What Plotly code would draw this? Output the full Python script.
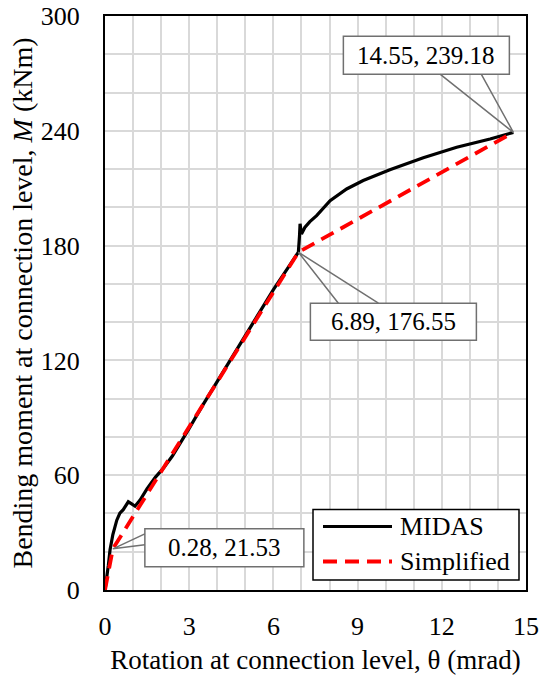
import plotly.graph_objects as go

# ---------------- data ----------------
midas_x = [0, 0.05, 0.12, 0.18, 0.28, 0.42, 0.53, 0.65, 0.83, 0.95, 1.07, 1.25, 1.5, 1.8,
           2.1, 2.4, 2.7, 3.0, 3.5, 4.0, 4.5, 5.0, 5.5, 6.0, 6.5, 6.89, 6.93, 6.95, 7.0,
           7.12, 7.3, 7.54, 8.02, 8.61, 9.2, 10.15, 11.34, 12.53, 13.72, 14.55]
midas_y = [0, 5, 13, 21, 29, 36.5, 40.2, 42, 46.1, 45, 43.8, 47, 53, 59,
           64, 70, 77, 84.5, 97, 109, 121, 133, 145, 157, 168, 176.55, 185, 191.4, 186,
           189.5, 192.5, 195.7, 203.5, 209.6, 214, 219.6, 225.9, 231.4, 235.7, 239.18]

simp_x = [0, 0.28, 6.89, 14.55]
simp_y = [0, 21.53, 176.55, 239.18]

series_names = ["MIDAS", "Simplified"]
x_ticks = [0, 3, 6, 9, 12, 15]
y_ticks = [0, 60, 120, 180, 240, 300]

FONT = "Liberation Serif"
W, H = 545, 675
ML, MR, MT, MB = 105, 19, 16, 85
PW, PH = W - ML - MR, H - MT - MB


def px(xp):
    return (xp - ML) / PW


def py(yp):
    return (H - MB - yp) / PH


fig = go.Figure()
fig.add_trace(go.Scatter(x=midas_x, y=midas_y, mode="lines", name=series_names[0],
                         line=dict(color="black", width=3.2), showlegend=False))
fig.add_trace(go.Scatter(x=simp_x, y=simp_y, mode="lines", name=series_names[1],
                         line=dict(color="#ff0000", width=3.8, dash="14px,8px"),
                         showlegend=False))

shapes = []
annotations = []
GRAY = "#707070"
callouts = [
    (1, (32, 191, -18, 20), [(32, 15), (32, 4)]),
    (2, (12, 178, -88, -51), [(40, -51), (80, -51)]),
    (3, (-170, -4, 58, 96), [(-73, 58), (-32, 58)]),
]
for idx, (bx0, bx1, by0, by1), wedge in callouts:
    xa, ya = simp_x[idx], simp_y[idx]
    shapes.append(dict(type="rect", xref="x", yref="y", xsizemode="pixel", ysizemode="pixel",
                       xanchor=xa, yanchor=ya, x0=bx0, x1=bx1, y0=by0, y1=by1,
                       fillcolor="white", line=dict(color=GRAY, width=1.5), layer="above"))
    (w1x, w1y), (w2x, w2y) = wedge
    path = f"M{w1x},{w1y} L0,0 L{w2x},{w2y}"
    shapes.append(dict(type="path", xref="x", yref="y", xsizemode="pixel", ysizemode="pixel",
                       xanchor=xa, yanchor=ya, path=path,
                       line=dict(color=GRAY, width=1.5), layer="above"))
    annotations.append(dict(x=xa, y=ya, xref="x", yref="y", showarrow=False,
                            text=f"{xa:.2f}, {ya:.2f}",
                            xshift=(bx0 + bx1) / 2, yshift=(by0 + by1) / 2,
                            font=dict(family=FONT, size=25, color="black")))

shapes.append(dict(type="rect", xref="paper", yref="paper",
                   x0=px(313), x1=px(519), y0=py(580), y1=py(509.5),
                   fillcolor="white", line=dict(color="black", width=1.5), layer="above"))
legend_rows = [(526.5, dict(color="black", width=3.2)),
               (561.5, dict(color="#ff0000", width=3.8, dash="14px,8px"))]
for name, (ry, lstyle) in zip(series_names, legend_rows):
    shapes.append(dict(type="line", xref="paper", yref="paper",
                       x0=px(323), x1=px(392), y0=py(ry), y1=py(ry),
                       line=lstyle, layer="above"))
    annotations.append(dict(x=px(398), y=py(ry), xref="paper", yref="paper",
                            xanchor="left", yanchor="middle", showarrow=False, text=name,
                            font=dict(family=FONT, size=26, color="black")))

grid = "#d9d9d9"
fig.update_layout(
    width=W, height=H,
    margin=dict(l=ML, r=MR, t=MT, b=MB),
    paper_bgcolor="white", plot_bgcolor="white",
    font=dict(family=FONT, color="black"),
    shapes=shapes, annotations=annotations,
    xaxis=dict(range=[0, 15], tickvals=x_ticks, ticktext=[str(v) for v in x_ticks],
               showgrid=True, gridcolor=grid, gridwidth=2,
               minor=dict(dtick=1, showgrid=True, gridcolor=grid, gridwidth=2),
               showline=True, linecolor="black", linewidth=2, mirror=True,
               ticks="", ticklabelstandoff=12, zeroline=False, automargin=False,
               tickfont=dict(family=FONT, size=26),
               title=dict(text="Rotation at connection level, θ (mrad)",
                          font=dict(family=FONT, size=27), standoff=12)),
    yaxis=dict(range=[0, 300], tickvals=y_ticks, ticktext=[str(v) for v in y_ticks],
               showgrid=True, gridcolor=grid, gridwidth=2,
               minor=dict(dtick=20, showgrid=True, gridcolor=grid, gridwidth=2),
               showline=True, linecolor="black", linewidth=2, mirror=True,
               ticks="", ticklabelstandoff=18, zeroline=False, automargin=False,
               tickfont=dict(family=FONT, size=26),
               title=dict(text="Bending moment at connection level, <i>M</i> (kNm)",
                          font=dict(family=FONT, size=28), standoff=0)),
)

fig.write_html("out.html")
